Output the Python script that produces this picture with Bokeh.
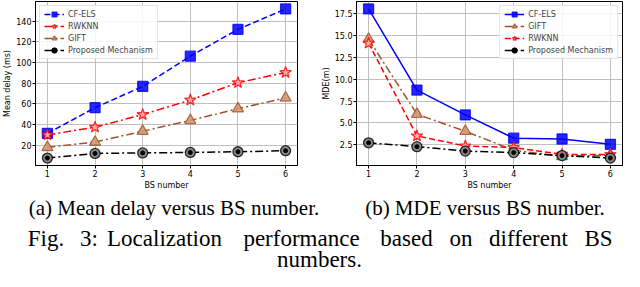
from bokeh.plotting import figure
from bokeh.layouts import column, row
from bokeh.models import Range1d, FixedTicker, Legend, LegendItem, PrintfTickFormatter
from bokeh.embed import file_html
from bokeh.resources import INLINE
from bokeh.core.properties import value

# ---------------- data ----------------
bs = [1, 2, 3, 4, 5, 6]

delay_cfels = [31.4, 56.3, 76.9, 106.2, 132.2, 152.0]
delay_rwknn = [29.9, 37.4, 49.6, 63.7, 80.5, 90.4]
delay_gift = [17.9, 23.0, 33.5, 44.0, 55.3, 65.8]
delay_prop = [7.5, 12.0, 12.5, 12.9, 13.6, 14.6]

mde_cfels = [18.0, 8.75, 5.92, 3.27, 3.17, 2.57]
mde_gift = [14.55, 6.0, 4.05, 1.9, 1.18, 1.33]
mde_rwknn = [14.1, 3.52, 2.38, 2.2, 1.42, 1.4]
mde_prop = [2.74, 2.3, 1.79, 1.62, 1.28, 1.0]

delay_yticks = [20, 40, 60, 80, 100, 120, 140]
mde_yticks = [2.5, 5.0, 7.5, 10.0, 12.5, 15.0, 17.5]

caption_a = "(a) Mean delay versus BS number."
caption_b = "(b) MDE versus BS number."
fig_words = ["Fig.", "3:", "Localization", "performance", "based", "on", "different", "BS"]
fig_last = "numbers."

FONT = "DejaVu Sans"
SERIF = "Liberation Serif"


def padded(vals, frac=0.05):
    lo, hi = min(vals), max(vals)
    m = (hi - lo) * frac
    return lo - m, hi + m


def style(p, yticks, fmt, ylabel):
    p.xaxis.ticker = FixedTicker(ticks=bs)
    p.yaxis.ticker = FixedTicker(ticks=yticks)
    p.yaxis.formatter = PrintfTickFormatter(format=fmt)
    p.xaxis.axis_label = "BS number"
    p.yaxis.axis_label = ylabel
    for ax in (p.xaxis, p.yaxis):
        ax.axis_label_text_font = FONT
        ax.axis_label_text_font_size = "8px"
        ax.axis_label_text_font_style = "normal"
        ax.axis_label_text_color = "black"
        ax.axis_label_standoff = 1
        ax.major_label_text_font = FONT
        ax.major_label_text_font_size = "8px"
        ax.major_label_text_color = "black"
        ax.major_label_standoff = 1
        ax.major_tick_out = 3
        ax.major_tick_in = 0
        ax.minor_tick_out = 0
        ax.minor_tick_in = 0
        ax.axis_line_color = "black"
        ax.major_tick_line_color = "black"
    p.grid.grid_line_color = "#b0b0b0"
    p.grid.grid_line_width = 0.8
    p.outline_line_color = "black"
    p.outline_line_width = 1
    p.background_fill_color = "white"


def series(p, y, color, dash, marker, size, fill, fill_alpha=1.0, dot=False):
    l = p.line(bs, y, line_color=color, line_width=1.5, line_dash=dash)
    s = p.scatter(bs, y, marker=marker, size=size, fill_color=fill, fill_alpha=fill_alpha,
                  line_color=color, line_width=1.3, line_alpha=0.8)
    rs = [l, s]
    if dot:
        d = p.scatter(bs, y, marker="circle", size=4, fill_color="black", line_color="black")
        rs.append(d)
    return rs


def legend(p, items, loc):
    lg = Legend(items=items, location=loc)
    lg.label_text_font = FONT
    lg.label_text_font_size = "8px"
    lg.label_height = 12
    lg.glyph_height = 12
    lg.glyph_width = 20
    lg.spacing = 0
    lg.padding = (4, 2)
    lg.margin = 4
    lg.label_standoff = 4
    lg.border_line_color = "#cccccc"
    lg.border_line_width = 1
    lg.background_fill_alpha = 0.85
    p.add_layout(lg)


# ---------------- left plot ----------------
y0, y1 = padded(delay_cfels + delay_rwknn + delay_gift + delay_prop)
p1 = figure(width=308, height=192, x_range=Range1d(0.75, 6.25), y_range=Range1d(y0, y1),
            toolbar_location=None, output_backend="svg", title=None,
            min_border_left=28, min_border_right=11, min_border_top=1, min_border_bottom=26)
style(p1, delay_yticks, "%d", "Mean delay (ms)")
a1 = series(p1, delay_cfels, "#0000ff", "6 3", "square", 10, "#0000ff", 0.85)
a2 = series(p1, delay_rwknn, "#ff0000", "8 3 2 3", "star", 12, "#ffb0b0", 0.9)
a3 = series(p1, delay_gift, "#a0522d", "8 3 2 3", "triangle", 11, "#d29a72", 0.9)
a4 = series(p1, delay_prop, "#000000", "8 3 2 3", "circle", 10, "#888888", 1.0, dot=True)
legend(p1, [LegendItem(label="CF-ELS", renderers=a1),
            LegendItem(label="RWKNN", renderers=a2),
            LegendItem(label="GIFT", renderers=a3),
            LegendItem(label="Proposed Mechanism", renderers=a4)], "top_left")

# ---------------- right plot ----------------
z0, z1 = padded(mde_cfels + mde_rwknn + mde_gift + mde_prop)
p2 = figure(width=316, height=192, x_range=Range1d(0.75, 6.25), y_range=Range1d(z0, z1),
            toolbar_location=None, output_backend="svg", title=None,
            min_border_left=48, min_border_right=2, min_border_top=1, min_border_bottom=26)
style(p2, mde_yticks, "%.1f", "MDE(m)")
b1 = series(p2, mde_cfels, "#0000ff", "solid", "square", 10, "#0000ff", 0.85)
b2 = series(p2, mde_gift, "#a0522d", "8 3 2 3", "triangle", 11, "#d29a72", 0.9)
b3 = series(p2, mde_rwknn, "#ff0000", "6 3", "star", 12, "#ffb0b0", 0.9)
b4 = series(p2, mde_prop, "#000000", "8 3 2 3", "circle", 10, "#888888", 1.0, dot=True)
legend(p2, [LegendItem(label="CF-ELS", renderers=b1),
            LegendItem(label="GIFT", renderers=b2),
            LegendItem(label="RWKNN", renderers=b3),
            LegendItem(label="Proposed Mechanism", renderers=b4)], "top_right")

# ---------------- captions ----------------
CAP_H = 79
cap = figure(width=624, height=CAP_H, x_range=Range1d(0, 624), y_range=Range1d(CAP_H, 0),
             toolbar_location=None, output_backend="svg", x_axis_type=None, y_axis_type=None,
             min_border=0, title=None)
cap.grid.visible = False
cap.outline_line_color = None
cap.text(x=[173.5, 484.5], y=[15, 15], text=[caption_a, caption_b],
         text_font=value(SERIF), text_font_size="21px", text_align="center",
         text_baseline="alphabetic", text_color="black")
word_x = [45.5, 88.5, 164, 301, 406, 460.5, 528, 598]
cap.text(x=word_x, y=[46] * len(fig_words), text=fig_words,
         text_font=value(SERIF), text_font_size="23px", text_align="center",
         text_baseline="alphabetic", text_color="black")
cap.text(x=[319], y=[67], text=[fig_last],
         text_font=value(SERIF), text_font_size="23px", text_align="center",
         text_baseline="alphabetic", text_color="black")

layout = column(row(p1, p2), cap)
open("out.html", "w").write(file_html(layout, INLINE))
